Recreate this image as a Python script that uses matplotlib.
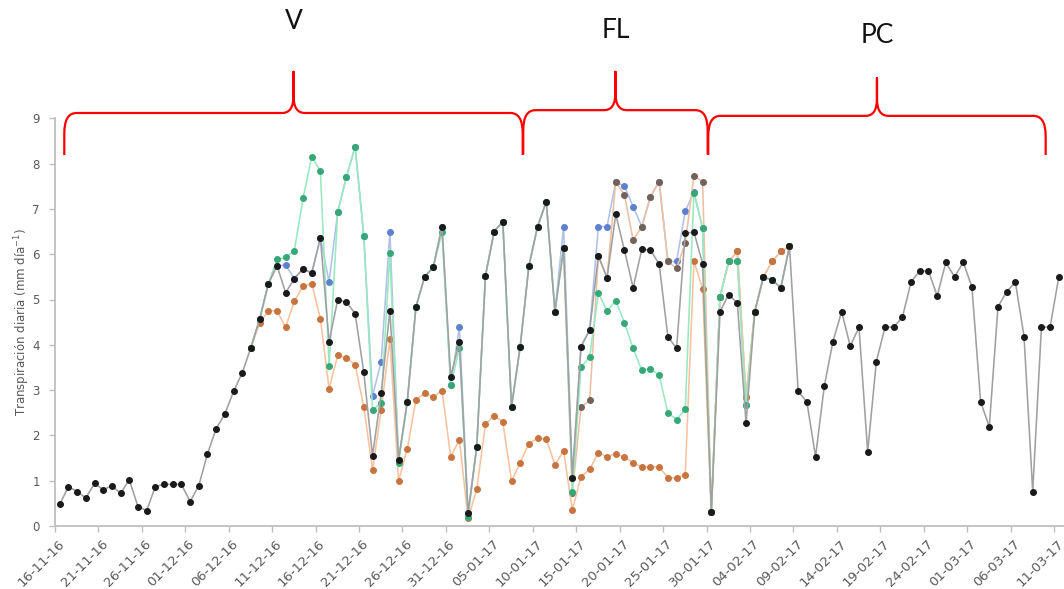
import numpy as np
import pandas as pd
import matplotlib
matplotlib.use("Agg")
import matplotlib.pyplot as plt
from matplotlib.path import Path
from matplotlib.patches import PathPatch
import matplotlib.transforms as mtransforms

# ---------------------------------------------------------------- data
axis_start = pd.Timestamp("2016-11-16")      # first day on the axis
axis_end = pd.Timestamp("2017-03-11")

# daily transpiration (mm/day), reference series, 16-11-16 .. 11-03-17
t_black = [0.48, 0.87, 0.76, 0.62, 0.94, 0.80, 0.89, 0.72, 1.02, 0.43,
           0.34, 0.87, 0.92, 0.92, 0.92, 0.54, 0.89, 1.59, 2.15, 2.47,
           2.97, 3.38, 3.94, 4.56, 5.34, 5.75, 5.15, 5.46, 5.68, 5.58,
           6.36, 4.07, 5.00, 4.94, 4.69, 3.39, 1.55, 2.93, 4.75, 1.46,
           2.74, 4.84, 5.50, 5.72, 6.61, 3.30, 4.07, 0.28, 1.75, 5.52,
           6.50, 6.72, 2.63, 3.96, 5.74, 6.61, 7.16, 4.73, 6.13, 1.07,
           3.96, 4.33, 5.96, 5.48, 6.88, 6.09, 5.26, 6.11, 6.09, 5.78,
           4.18, 3.92, 6.46, 6.49, 5.79, 0.30, 4.73, 5.11, 4.92, 2.27,
           4.73, 5.50, 5.43, 5.26, 6.17, 2.97, 2.74, 1.53, 3.08, 4.07,
           4.73, 3.97, 4.39, 1.64, 3.63, 4.39, 4.39, 4.61, 5.39, 5.63,
           5.63, 5.08, 5.82, 5.50, 5.82, 5.28, 2.74, 2.19, 4.84, 5.17,
           5.39, 4.18, 0.76, 4.39, 4.39, 5.50]

# treatment series, 08-12-16 .. 08-02-17
trt_start = pd.Timestamp("2016-12-08")
t_orange = [3.94, 4.48, 4.75, 4.75, 4.39, 4.96, 5.30, 5.35, 4.58, 3.03,
            3.77, 3.71, 3.56, 2.63, 1.24, 2.56, 4.12, 1.00, 1.70, 2.78,
            2.93, 2.85, 2.99, 1.53, 1.90, 0.17, 0.81, 2.25, 2.43, 2.30,
            0.99, 1.40, 1.82, 1.94, 1.92, 1.35, 1.66, 0.35, 1.09, 1.25,
            1.62, 1.53, 1.60, 1.52, 1.40, 1.30, 1.31, 1.30, 1.07, 1.06,
            1.13, 5.85, 5.23, 0.30, 5.06, 5.84, 6.06, 2.85, 4.73, 5.50,
            5.84, 6.06, 6.17]
t_green = [3.94, 4.56, 5.34, 5.89, 5.93, 6.08, 7.23, 8.15, 7.84, 3.53,
           6.94, 7.71, 8.37, 6.40, 2.56, 2.72, 6.02, 1.38, 2.74, 4.84,
           5.50, 5.72, 6.48, 3.11, 3.92, 0.20, 1.75, 5.52, 6.50, 6.72,
           2.63, 3.96, 5.74, 6.61, 7.16, 4.73, 6.13, 0.75, 3.50, 3.74,
           5.14, 4.75, 4.97, 4.49, 3.92, 3.44, 3.47, 3.33, 2.50, 2.35,
           2.58, 7.36, 6.57, 0.30, 5.06, 5.84, 5.84, 2.67, 4.73, 5.50,
           5.43, 5.26, 6.17]
t_blue = [3.94, 4.56, 5.34, 5.74, 5.76, 5.46, 5.68, 5.58, 6.36, 5.39,
          6.94, 7.71, 8.37, 6.40, 2.87, 3.63, 6.50, 1.46, 2.74, 4.84,
          5.50, 5.72, 6.61, 3.11, 4.39, 0.28, 1.75, 5.52, 6.50, 6.72,
          2.63, 3.96, 5.74, 6.61, 7.16, 4.73, 6.61, 1.07, 3.96, 4.33,
          6.61, 6.61, 7.60, 7.50, 7.05, 6.61, 7.27, 7.60, 5.84, 5.84,
          6.95, 7.37, 6.57, 0.30, 5.06, 5.84, 5.84, 2.67, 4.73, 5.50,
          5.43, 5.26, 6.17]

# treatment series, 13-01-17 .. 08-02-17
brown_start = pd.Timestamp("2017-01-13")
t_brown = [6.13, 0.72, 2.62, 2.78, 5.96, 5.48, 7.60, 7.31, 6.31, 6.61,
           7.27, 7.60, 5.84, 5.69, 6.24, 7.73, 7.60, 0.30, 5.06, 5.84,
           6.06, 2.85, 4.73, 5.50, 5.84, 6.06, 6.17]

# crop phases: label and span in days since the axis start
phase_names = ["V", "FL", "PC"]
phase_from = [1.07, 53.9, 75.2]
phase_to = [53.84, 75.13, 114.04]

y_ticks = list(range(0, 10))
tick_step_days = 5

# ---------------------------------------------------------------- helpers
def day_pos(ts):
    """Axis position (days since axis start) of a timestamp."""
    return (pd.Timestamp(ts) - axis_start).days

def series_x(start, n):
    # daily totals are placed at midday of their date
    return np.arange(n) + day_pos(start) + 0.55

# ---------------------------------------------------------------- figure
fig = plt.figure(figsize=(10.64, 5.89), dpi=100)
ax = fig.add_axes([55 / 1064, 63 / 589, 1 - 55 / 1064, 407.7 / 589])

styles = [
    (t_blue, trt_start, "#b0c2e8", "#5d80cf", 2),
    (t_brown, brown_start, "#ecc0a2", "#74625a", 3),
    (t_orange, trt_start, "#f8c29e", "#c8743f", 4),
    (t_green, trt_start, "#98e8c2", "#36a877", 5),
    (t_black, axis_start, "#a0a0a0", "#1a1a1a", 6),
]
for vals, st, lc, mc, z in styles:
    ax.plot(series_x(st, len(vals)), vals, color=lc, lw=1.15,
            marker="o", ms=4.0, mfc=mc, mec=mc, zorder=z)

n_days = day_pos(axis_end)
ax.set_xlim(0, n_days + 1.15)
ax.set_ylim(0, 9)

# date ticks every five days, labels written at 45 degrees
ticks = np.arange(0, n_days + 1, tick_step_days)
labels = [(axis_start + pd.Timedelta(days=int(d))).strftime("%d-%m-%y")
          for d in ticks]
ax.set_xticks(ticks)
ax.set_xticklabels([""] * len(ticks))
xblend = mtransforms.blended_transform_factory(ax.transData, ax.transAxes)
lab_shift = mtransforms.ScaledTranslation(12 / 100, -11 / 100,
                                          fig.dpi_scale_trans)
for t, lab in zip(ticks, labels):
    ax.text(t, 0, lab, transform=xblend + lab_shift, rotation=45,
            ha="right", va="top", fontsize=9.5, color="#595959",
            clip_on=False)

ax.set_yticks(y_ticks)
ax.set_yticklabels([str(v) for v in y_ticks], fontsize=8.5, color="#595959")
ax.tick_params(axis="both", direction="out", length=4, width=1,
               color="#bfbfbf")
ax.tick_params(axis="y", pad=7)

for side in ("top", "right"):
    ax.spines[side].set_visible(False)
for side in ("left", "bottom"):
    ax.spines[side].set_color("#bfbfbf")
    ax.spines[side].set_linewidth(1.3)

ax.set_ylabel("Transpiración diaria (mm día$^{-1}$)", fontsize=8.5,
              color="#595959", labelpad=0)

# ---------------------------------------------------------------- braces
blend = mtransforms.blended_transform_factory(ax.transData, ax.transAxes)


def brace(x0, x1, y_base, y_line, y_tip, rx=1.4, ry=0.05, cx=1.3, cy=0.042):
    xm = (x0 + x1) / 2
    verts = [(x0, y_base), (x0, y_line - ry), (x0, y_line), (x0 + rx, y_line),
             (xm - cx, y_line), (xm, y_line), (xm, y_line + cy), (xm, y_tip),
             (xm, y_line + cy), (xm, y_line), (xm + cx, y_line),
             (x1 - rx, y_line), (x1, y_line), (x1, y_line - ry), (x1, y_base)]
    codes = [Path.MOVETO, Path.LINETO, Path.CURVE3, Path.CURVE3,
             Path.LINETO, Path.CURVE3, Path.CURVE3, Path.LINETO,
             Path.LINETO, Path.CURVE3, Path.CURVE3,
             Path.LINETO, Path.CURVE3, Path.CURVE3, Path.LINETO]
    patch = PathPatch(Path(verts, codes), transform=blend, fill=False,
                      ec="#ff0000", lw=1.6, clip_on=False, joinstyle="round")
    ax.add_patch(patch)
    return xm


brace_levels = [(0.910, 1.013, 1.114, 1.237),
                (0.912, 1.020, 1.114, 1.215),
                (0.910, 1.006, 1.099, 1.204)]
for name, a, b, (yb, yl, yt, ytxt) in zip(phase_names, phase_from, phase_to,
                                          brace_levels):
    xm = brace(a, b, yb, yl, yt)
    ax.text(xm, ytxt, name, transform=blend, ha="center", va="center",
            fontsize=19, family="Lato", color="#111111", clip_on=False)

fig.savefig("out.png", dpi=100)
